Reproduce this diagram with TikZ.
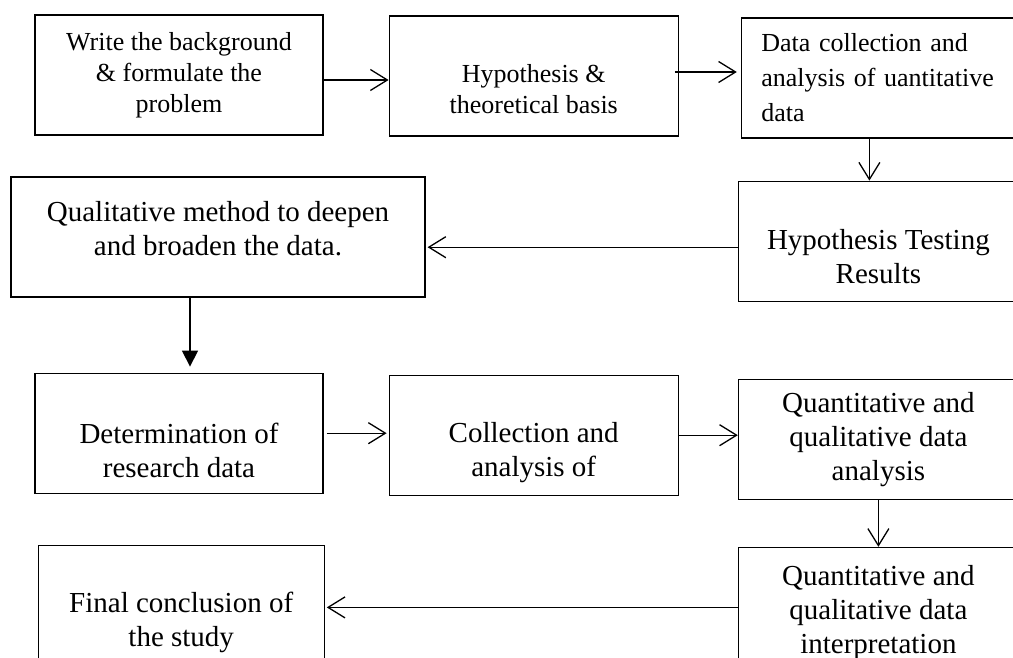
\documentclass[tikz,border=0pt]{standalone}
\usepackage{fontspec}
\setmainfont{Liberation Serif}
\usetikzlibrary{arrows.meta, positioning}
\tikzset{
    stepbox/.style={rectangle, draw=black, line width=1.2pt, minimum width=288pt,
        minimum height=120pt, align=center, inner sep=4pt, font=\fontsize{26}{31}\selectfont},
    bigbox/.style={stepbox, font=\fontsize{29}{34}\selectfont},
    edgebox/.style={bigbox, minimum width=280pt},
    arrow/.style={-{Straight Barb[length=17pt,width=21pt]}, line width=1.3pt},
    solidarrow/.style={-{Triangle[length=16pt,width=16pt]}, line width=1.3pt}
}
\newcommand{\lift}[1]{\rule{0pt}{#1}}

\begin{document}
\begin{tikzpicture}[x=1pt, y=1pt]

    \useasboundingbox (0,0) rectangle (1013,-658);

    % first row
    \node[stepbox] (bg) at (179,-75) {Write the background\\\& formulate the\\problem};
    \node[stepbox, right=65pt of bg, yshift=-1pt, minimum width=289pt] (hyp) {\lift{14pt}\\Hypothesis \&\\theoretical basis};
    \node[stepbox, right=62pt of hyp, yshift=-2pt, minimum width=280pt, text width=240pt,
        align=left, inner xsep=20pt, font=\fontsize{26}{35}\selectfont] (datacol)
        {Data collection and\\analysis of uantitative\\data};

    % second row
    \node[edgebox, below=42pt of datacol, xshift=-3pt] (htr) {\lift{16pt}\\Hypothesis Testing\\Results};
    \node[bigbox, minimum width=414pt] (qual) at (218,-237) {Qualitative method to deepen\\and broaden the data.\\[-16pt]\mbox{}};

    % third row
    \node[bigbox, below=75pt of qual, xshift=-39pt] (det) {\lift{20pt}\\Determination of\\research data};
    \node[bigbox, right=65pt of det, yshift=-2pt, minimum width=289pt] (coll) {\lift{20pt}\\Collection and\\analysis of};
    \node[edgebox, right=59pt of coll, yshift=-4pt] (qqa) {Quantitative and\\qualitative data\\analysis};

    % last row
    \node[edgebox, below=47pt of qqa] (qqi) {\lift{30pt}Quantitative and\\qualitative data\\interpretation};
    \node[bigbox, left=413pt of qqi, yshift=2pt, minimum width=286pt] (final) {\lift{20pt}\\Final conclusion of\\the study};

    \draw[arrow] ([yshift=-5pt]bg.east) -- ([yshift=-5pt]bg.east -| hyp.west);
    \draw[arrow, shorten >=4pt] ([yshift=4pt,xshift=-4pt]hyp.east) -- ([yshift=4pt]hyp.east -| datacol.west);
    \draw[arrow] ([xshift=-12pt]datacol.south) -- ([xshift=-12pt]datacol.south |- htr.north);
    \draw[arrow, shorten >=2pt] ([yshift=-6pt]htr.west) -- ([yshift=-6pt]htr.west -| qual.east);
    \draw[solidarrow, shorten >=6pt] ([xshift=-28pt]qual.south) -- ([xshift=-28pt]qual.south |- det.north);
    \draw[arrow, shorten <=3pt, shorten >=2pt] (det.east) -- (det.east -| coll.west);
    \draw[arrow] (coll.east) -- (coll.east -| qqa.west);
    \draw[arrow] (qqa) -- (qqi);
    \draw[arrow, shorten >=2pt] (qqi.west) -- (qqi.west -| final.east);

\end{tikzpicture}
\end{document}
